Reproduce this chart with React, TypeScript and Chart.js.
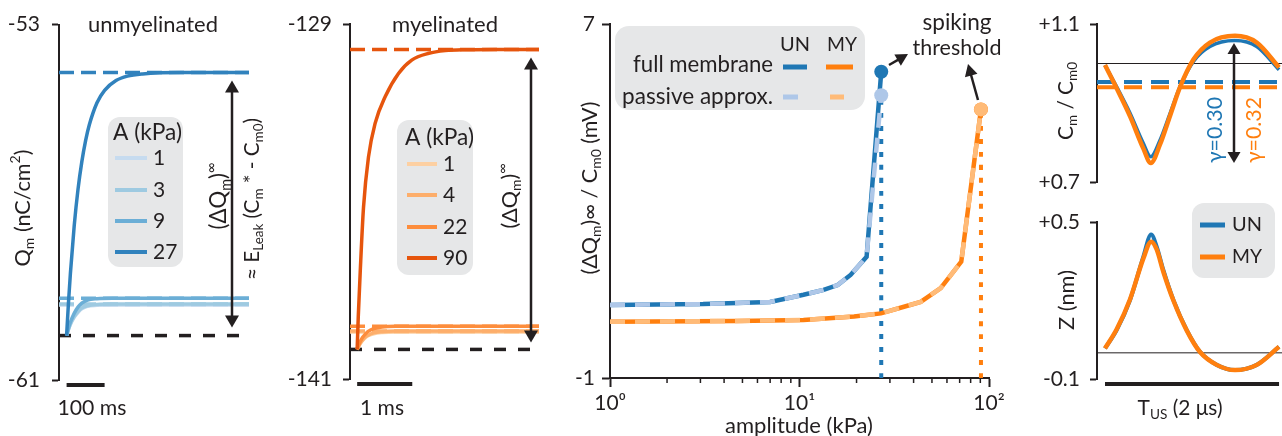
import React, { useEffect, useRef } from "react";
import Chart from "chart.js/auto";

const W = 1282;
const H = 436;
const INK = "#231f20";
const FONT = "Lato, 'Noto Sans', sans-serif";
const FS = 21;
const BOX = "#e6e7e8";
const XAXIS_H = 40;

// ---------- Panel 1 : unmyelinated ----------
const p1Time = [0, 5, 10, 20, 30, 40, 50, 60, 80, 100, 130, 160, 200, 300, 480];
const p1A27 = [-60, -59.25, -58.6, -57.53, -56.71, -56.09, -55.61, -55.25, -54.76, -54.48, -54.26, -54.16, -54.11, -54.08, -54.08];
const p1TimeLow = [0, 5, 10, 20, 30, 40, 55, 80, 120, 480];
const p1A9 = [-60, -59.83, -59.7, -59.5, -59.36, -59.27, -59.2, -59.17, -59.16, -59.16];
const p1A3 = [-60, -59.86, -59.74, -59.57, -59.46, -59.38, -59.33, -59.3, -59.29, -59.29];
const p1A1 = [-60, -59.86, -59.75, -59.59, -59.48, -59.4, -59.34, -59.32, -59.31, -59.31];
const p1Plateaus = [-54.08, -59.16, -59.29, -59.31];
const p1Rest = -60;
const p1Amps = ["1", "3", "9", "27"];
const p1Colors = ["#c6dbef", "#9ecae1", "#6baed6", "#3182bd"];

// ---------- Panel 2 : myelinated ----------
const p2Time = [0, 0.02, 0.055, 0.115, 0.205, 0.327, 0.51, 0.75, 0.99, 1.3, 1.6, 2.0, 2.5, 3.3];
const p2A90 = [-140, -138.9, -137.4, -135.2, -133.5, -132.35, -131.45, -130.67, -130.22, -129.99, -129.9, -129.87, -129.86, -129.86];
const p2TimeLow = [0, 0.03, 0.06, 0.1, 0.15, 0.2, 0.3, 0.45, 0.7, 3.3];
const p2A22 = [-140, -139.84, -139.72, -139.59, -139.48, -139.39, -139.3, -139.24, -139.22, -139.22];
const p2A4 = [-140, -139.88, -139.78, -139.68, -139.58, -139.52, -139.44, -139.4, -139.38, -139.38];
const p2A1 = [-140, -139.88, -139.79, -139.69, -139.6, -139.54, -139.47, -139.43, -139.41, -139.41];
const p2Plateaus = [-129.86, -139.22, -139.38, -139.41];
const p2Rest = -140;
const p2Amps = ["1", "4", "22", "90"];
const p2Colors = ["#fdd0a2", "#fdae6b", "#fd8d3c", "#e6550d"];

// ---------- Panel 3 : steady-state charge vs amplitude ----------
const unAmp = [1, 3.1, 7, 10.5, 13.4, 15.9, 18.6, 22.6, 27];
const unFull = [0.65, 0.67, 0.72, 0.88, 0.99, 1.1, 1.33, 1.74, 5.92];
const unPassive = [0.65, 0.67, 0.72, 0.88, 0.99, 1.1, 1.33, 1.74, 5.39];
const myAmp = [1, 4.7, 10.5, 19.4, 26.9, 35.6, 43.6, 55.6, 71.4, 90.7];
const myFull = [0.27, 0.29, 0.31, 0.39, 0.46, 0.61, 0.72, 1.03, 1.63, 5.07];
const myPassive = [0.27, 0.29, 0.31, 0.39, 0.46, 0.61, 0.72, 1.03, 1.63, 5.07];
const unThreshold = 27;
const myThreshold = 90.7;
const p3TickLabels: Record<number, string> = { 1: "10⁰", 10: "10¹", 100: "10²" };
const p3Minor = [2, 3, 4, 5, 6, 7, 8, 9, 20, 30, 40, 50, 60, 70, 80, 90];

// ---------- Panel 4 : capacitance & deflection over one US cycle ----------
const cmPhase = [0, 0.067, 0.144, 0.22, 0.263, 0.316, 0.374, 0.431, 0.508, 0.603, 0.747, 0.872, 1.0];
const cmUN = [0.996, 0.941, 0.874, 0.798, 0.764, 0.806, 0.874, 0.941, 1.005, 1.043, 1.058, 1.043, 0.984];
const cmMY = [0.996, 0.937, 0.866, 0.785, 0.748, 0.795, 0.868, 0.94, 1.01, 1.053, 1.07, 1.053, 0.99];
const cmEffUN = 0.953;
const cmEffMY = 0.94;
const zPhase = [0, 0.067, 0.144, 0.22, 0.265, 0.297, 0.335, 0.393, 0.47, 0.546, 0.642, 0.747, 0.872, 1.0];
const zUN = [0.017, 0.087, 0.202, 0.367, 0.452, 0.406, 0.317, 0.202, 0.087, 0.004, -0.046, -0.066, -0.046, 0.023];
const zMY = [0.017, 0.09, 0.205, 0.36, 0.425, 0.395, 0.31, 0.2, 0.085, 0.003, -0.046, -0.066, -0.046, 0.023];

const BLUE = "#1f77b4";
const LBLUE = "#aec7e8";
const ORANGE = "#ff7f0e";
const LORANGE = "#ffbb78";

type Seg = { t: string; sub?: boolean; sup?: boolean; color?: string };
type RichOpt = { size?: number; color?: string; align?: "left" | "center" | "right"; rotate?: number; fit?: number };

function rich(ctx: CanvasRenderingContext2D, segs: Seg[], x: number, y: number, opt: RichOpt = {}) {
  let size = opt.size ?? FS;
  const color = opt.color ?? INK;
  const align = opt.align ?? "center";
  const fontOf = (s: Seg, sz: number) => `${s.sub || s.sup ? sz * 0.65 : sz}px ${FONT}`;
  const measure = (sz: number) => {
    let total = 0;
    const widths = segs.map((s) => {
      ctx.font = fontOf(s, sz);
      const w = ctx.measureText(s.t).width;
      total += w;
      return w;
    });
    return { total, widths };
  };
  ctx.save();
  let m = measure(size);
  if (opt.fit) {
    size = (size * opt.fit) / m.total;
    m = measure(size);
  }
  ctx.translate(x, y);
  if (opt.rotate) ctx.rotate(opt.rotate);
  let cx = align === "center" ? -m.total / 2 : align === "right" ? -m.total : 0;
  ctx.textBaseline = "middle";
  ctx.textAlign = "left";
  segs.forEach((s, i) => {
    ctx.font = fontOf(s, size);
    ctx.fillStyle = s.color ?? color;
    const dy = s.sub ? size * 0.32 : s.sup ? -size * 0.35 : 0;
    ctx.fillText(s.t, cx, dy);
    cx += m.widths[i];
  });
  ctx.restore();
}

function head(ctx: CanvasRenderingContext2D, xt: number, yt: number, ang: number, len: number, wid: number) {
  const c = Math.cos(ang);
  const s = Math.sin(ang);
  ctx.beginPath();
  ctx.moveTo(xt, yt);
  ctx.lineTo(xt - len * c + (wid / 2) * s, yt - len * s - (wid / 2) * c);
  ctx.lineTo(xt - len * c - (wid / 2) * s, yt - len * s + (wid / 2) * c);
  ctx.closePath();
  ctx.fill();
}

function arrow(ctx: CanvasRenderingContext2D, x1: number, y1: number, x2: number, y2: number, both: boolean, len = 12, wid = 14, lw = 2.5) {
  const ang = Math.atan2(y2 - y1, x2 - x1);
  const c = Math.cos(ang);
  const s = Math.sin(ang);
  ctx.save();
  ctx.strokeStyle = INK;
  ctx.fillStyle = INK;
  ctx.lineWidth = lw;
  ctx.beginPath();
  const sx = both ? x1 + c * len * 0.8 : x1;
  const sy = both ? y1 + s * len * 0.8 : y1;
  ctx.moveTo(sx, sy);
  ctx.lineTo(x2 - c * len * 0.8, y2 - s * len * 0.8);
  ctx.stroke();
  head(ctx, x2, y2, ang, len, wid);
  if (both) head(ctx, x1, y1, ang + Math.PI, len, wid);
  ctx.restore();
}

function roundBox(ctx: CanvasRenderingContext2D, x: number, y: number, w: number, h: number, r: number) {
  ctx.save();
  ctx.fillStyle = BOX;
  ctx.beginPath();
  ctx.moveTo(x + r, y);
  ctx.lineTo(x + w - r, y);
  ctx.arcTo(x + w, y, x + w, y + r, r);
  ctx.lineTo(x + w, y + h - r);
  ctx.arcTo(x + w, y + h, x + w - r, y + h, r);
  ctx.lineTo(x + r, y + h);
  ctx.arcTo(x, y + h, x, y + h - r, r);
  ctx.lineTo(x, y + r);
  ctx.arcTo(x, y, x + r, y, r);
  ctx.closePath();
  ctx.fill();
  ctx.restore();
}

function seg(ctx: CanvasRenderingContext2D, x1: number, y1: number, x2: number, y2: number, color: string, lw: number, dash: number[] = []) {
  ctx.save();
  ctx.strokeStyle = color;
  ctx.lineWidth = lw;
  ctx.setLineDash(dash);
  ctx.beginPath();
  ctx.moveTo(x1, y1);
  ctx.lineTo(x2, y2);
  ctx.stroke();
  ctx.restore();
}

const curve = (xs: number[], ys: number[], color: string, width: number, extra: any = {}) => ({
  data: xs.map((x, i) => ({ x, y: ys[i] })),
  borderColor: color,
  backgroundColor: color,
  borderWidth: width,
  pointRadius: 0,
  fill: false,
  cubicInterpolationMode: "monotone",
  ...extra,
});

const hline = (v: number, x0: number, x1: number, color: string, width: number, dash: number[]) => ({
  data: [
    { x: x0, y: v },
    { x: x1, y: v },
  ],
  borderColor: color,
  borderWidth: width,
  borderDash: dash,
  pointRadius: 0,
  fill: false,
});

const dot = (x: number, y: number, color: string) => ({
  data: [{ x, y }],
  showLine: false,
  pointRadius: 7,
  pointBackgroundColor: color,
  pointBorderColor: color,
  pointBorderWidth: 0,
  borderColor: color,
  backgroundColor: color,
});

function yAxis(axisW: number, min: number, max: number, vals: number[], fmt: (v: number) => string, tickLen: number, pad: number) {
  return {
    type: "linear",
    position: "left",
    min,
    max,
    afterFit: (s: any) => {
      s.width = axisW;
    },
    afterBuildTicks: (s: any) => {
      s.ticks = vals.map((v) => ({ value: v }));
    },
    grid: { display: true, drawOnChartArea: false, drawTicks: true, tickLength: tickLen, tickWidth: 2, tickColor: INK },
    border: { display: true, width: 2, color: INK },
    ticks: { padding: pad, color: INK, font: { family: FONT, size: FS }, autoSkip: false, callback: (v: any) => fmt(Number(v)) },
  };
}

const hiddenX = (min: number, max: number) => ({ type: "linear", min, max, display: false });

type Area = { l: number; r: number; t: number; b: number };

function config(area: Area, axisW: number, xs: any, ys: any, datasets: any[], before?: (c: any) => void, after?: (c: any) => void) {
  const xH = xs.display === false ? 0 : XAXIS_H;
  return {
    type: "line",
    data: { datasets },
    options: {
      responsive: false,
      animation: false,
      events: [],
      layout: { padding: { left: area.l - axisW, top: area.t, right: W - area.r, bottom: H - area.b - xH } },
      scales: { x: xs, y: ys },
      plugins: { legend: { display: false }, tooltip: { enabled: false } },
    },
    plugins: [
      {
        id: "deco",
        beforeDatasetsDraw: (c: any) => {
          if (before) before(c);
        },
        afterDraw: (c: any) => {
          if (after) after(c);
        },
      },
    ],
  };
}

const fmtInt = (v: number) => String(v);
const fmtSigned = (v: number) => (v > 0 ? "+" : v < 0 ? "-" : "") + Math.abs(v).toFixed(1);
const UP = -Math.PI / 2;

function ampLegend(ctx: CanvasRenderingContext2D, titleX: number, titleY: number, ys: number[], lineX: [number, number], textX: number, labels: string[], colors: string[]) {
  rich(ctx, [{ t: "A (kPa)" }], titleX, titleY, { align: "left", fit: 69 });
  ys.forEach((y, i) => {
    seg(ctx, lineX[0], y, lineX[1], y, colors[i], 4);
    rich(ctx, [{ t: labels[i] }], textX, y, { align: "left", size: 21 });
  });
}

function panel1() {
  const xmin = -20;
  const xmax = 480;
  const datasets = [
    curve(p1Time, p1A27, p1Colors[3], 3.5),
    hline(p1Plateaus[0], xmin, xmax, p1Colors[3], 3.5, [15, 7]),
    curve(p1TimeLow, p1A9, p1Colors[2], 3.5),
    hline(p1Plateaus[1], xmin, xmax, p1Colors[2], 3.5, [15, 7]),
    curve(p1TimeLow, p1A3, p1Colors[1], 3.5),
    hline(p1Plateaus[2], xmin, xmax, p1Colors[1], 3.5, [15, 7]),
    curve(p1TimeLow, p1A1, p1Colors[0], 3.5),
    hline(p1Plateaus[3], xmin, xmax, p1Colors[0], 3.5, [15, 7]),
    hline(p1Rest, xmin, xmax, INK, 3.5, [12, 12]),
  ];
  return config(
    { l: 59, r: 249, t: 24, b: 380 },
    57,
    hiddenX(xmin, xmax),
    yAxis(57, -61, -53, [-61, -53], fmtInt, 7, 12),
    datasets,
    (c) => roundBox(c.ctx, 108, 117, 75, 150, 12),
    (c) => {
      const ctx = c.ctx;
      const ys = c.scales.y;
      const xs = c.scales.x;
      rich(ctx, [{ t: "unmyelinated" }], 153, 25, { fit: 130 });
      rich(ctx, [{ t: "Q" }, { t: "m", sub: true }, { t: " (nC/cm" }, { t: "2", sup: true }, { t: ")" }], 23, 208, { rotate: UP, fit: 117 });
      arrow(ctx, 232, ys.getPixelForValue(p1Plateaus[0]) + 8, 232, ys.getPixelForValue(p1Rest) - 8, true);
      rich(ctx, [{ t: "(ΔQ" }, { t: "m", sub: true }, { t: ")" }, { t: "∞", sup: true }], 219, 196, { rotate: UP, fit: 67 });
      rich(
        ctx,
        [{ t: "≈ E" }, { t: "Leak", sub: true }, { t: " (C" }, { t: "m", sub: true }, { t: " * - C" }, { t: "m0", sub: true }, { t: ")" }],
        252,
        199,
        { rotate: UP, fit: 162 }
      );
      seg(ctx, xs.getPixelForValue(0), 385, xs.getPixelForValue(100), 385, INK, 4);
      rich(ctx, [{ t: "100 ms" }], 92, 408, { fit: 69 });
      ampLegend(ctx, 113, 133, [158, 190, 221, 252], [115, 147], 153, p1Amps, p1Colors);
    }
  );
}

function panel2() {
  const xmin = -0.13;
  const xmax = 3.3;
  const datasets = [
    curve(p2Time, p2A90, p2Colors[3], 3.5),
    hline(p2Plateaus[0], xmin, xmax, p2Colors[3], 3.5, [15, 7]),
    curve(p2TimeLow, p2A22, p2Colors[2], 3.5),
    hline(p2Plateaus[1], xmin, xmax, p2Colors[2], 3.5, [15, 7]),
    curve(p2TimeLow, p2A4, p2Colors[1], 3.5),
    hline(p2Plateaus[2], xmin, xmax, p2Colors[1], 3.5, [15, 7]),
    curve(p2TimeLow, p2A1, p2Colors[0], 3.5),
    hline(p2Plateaus[3], xmin, xmax, p2Colors[0], 3.5, [15, 7]),
    hline(p2Rest, xmin, xmax, INK, 3.5, [12, 12]),
  ];
  return config(
    { l: 350, r: 539, t: 24, b: 379 },
    75,
    hiddenX(xmin, xmax),
    yAxis(75, -141, -129, [-141, -129], fmtInt, 7, 11),
    datasets,
    (c) => roundBox(c.ctx, 397, 120, 76, 155, 12),
    (c) => {
      const ctx = c.ctx;
      const ys = c.scales.y;
      const xs = c.scales.x;
      rich(ctx, [{ t: "myelinated" }], 445, 25, { fit: 106 });
      arrow(ctx, 531, ys.getPixelForValue(p2Plateaus[0]) + 8, 531, ys.getPixelForValue(p2Rest) - 7, true);
      rich(ctx, [{ t: "(ΔQ" }, { t: "m", sub: true }, { t: ")" }, { t: "∞", sup: true }], 510, 196, { rotate: UP, fit: 65 });
      seg(ctx, xs.getPixelForValue(0), 384, xs.getPixelForValue(1), 384, INK, 4);
      rich(ctx, [{ t: "1 ms" }], 382, 408, { fit: 44 });
      ampLegend(ctx, 405, 138, [164, 195, 227, 258], [407, 437], 443, p2Amps, p2Colors);
    }
  );
}

function panel3() {
  const datasets = [
    dot(unThreshold, unFull[unFull.length - 1], BLUE),
    dot(unThreshold, unPassive[unPassive.length - 1], LBLUE),
    dot(myThreshold, myPassive[myPassive.length - 1], LORANGE),
    dot(myThreshold, myFull[myFull.length - 1], ORANGE),
    curve(unAmp, unPassive, LBLUE, 4.5, { tension: 0, cubicInterpolationMode: "default", borderDash: [15, 10] }),
    curve(unAmp, unFull, BLUE, 4.5, { tension: 0, cubicInterpolationMode: "default" }),
    curve(myAmp, myPassive, LORANGE, 4.5, { tension: 0, cubicInterpolationMode: "default", borderDash: [15, 10] }),
    curve(myAmp, myFull, ORANGE, 4.5, { tension: 0, cubicInterpolationMode: "default" }),
    curve([unThreshold, unThreshold], [-1, unPassive[unPassive.length - 1]], BLUE, 4, { tension: 0, borderDash: [5, 8] }),
    curve([myThreshold, myThreshold], [-1, myPassive[myPassive.length - 1]], ORANGE, 4, { tension: 0, borderDash: [5, 8] }),
  ];
  const xs = {
    type: "logarithmic",
    min: 1,
    max: 100,
    afterFit: (s: any) => {
      s.height = XAXIS_H;
    },
    afterBuildTicks: (s: any) => {
      s.ticks = [1, 10, 100].map((v) => ({ value: v }));
    },
    grid: { display: true, drawOnChartArea: false, drawTicks: true, tickLength: 9, tickWidth: 2, tickColor: INK },
    border: { display: true, width: 2, color: INK },
    ticks: { padding: 4, color: INK, font: { family: FONT, size: 21 }, autoSkip: false, maxRotation: 0, callback: (v: any) => p3TickLabels[Number(v)] ?? "" },
  };
  return config(
    { l: 610, r: 989, t: 24, b: 378 },
    75,
    xs,
    yAxis(75, -1, 7, [-1, 7], fmtInt, 8, 7),
    datasets,
    (c) => roundBox(c.ctx, 615, 26, 250, 84, 14),
    (c) => {
      const ctx = c.ctx;
      const x = c.scales.x;
      const bottom = c.chartArea.bottom;
      p3Minor.forEach((v) => seg(ctx, x.getPixelForValue(v), bottom, x.getPixelForValue(v), bottom + 5, INK, 1.5));
      rich(ctx, [{ t: "(ΔQ" }, { t: "m", sub: true }, { t: ")∞ / C" }, { t: "m0", sub: true }, { t: " (mV)" }], 590, 188, { rotate: UP, fit: 173 });
      rich(ctx, [{ t: "amplitude (kPa)" }], 799, 426, { fit: 148 });
      rich(ctx, [{ t: "UN" }], 795, 45, { fit: 30 });
      rich(ctx, [{ t: "MY" }], 842, 45, { fit: 30 });
      rich(ctx, [{ t: "full membrane" }], 773, 65, { align: "right", fit: 140 });
      rich(ctx, [{ t: "passive approx." }], 773, 97, { align: "right", fit: 151 });
      seg(ctx, 783, 67, 807, 67, BLUE, 5);
      seg(ctx, 826, 67, 853, 67, ORANGE, 5);
      seg(ctx, 783, 97, 798, 97, LBLUE, 5);
      seg(ctx, 830, 97, 844, 97, LORANGE, 5);
      rich(ctx, [{ t: "spiking" }], 957, 23, { fit: 69 });
      rich(ctx, [{ t: "threshold" }], 957, 48, { fit: 89 });
      arrow(ctx, 889, 65, 908, 54, false, 12, 13, 2.5);
      arrow(ctx, 978, 100, 968, 64, false, 12, 13, 2.5);
    }
  );
}

function panel4a() {
  const xmin = -0.046;
  const xmax = 1.017;
  const datasets = [
    curve(cmPhase, cmMY, ORANGE, 4.5),
    curve(cmPhase, cmUN, BLUE, 3.5),
    hline(cmEffMY, xmin, xmax, ORANGE, 4, [18, 9]),
    hline(cmEffUN, xmin, xmax, BLUE, 4, [18, 9]),
    hline(1.0, xmin, xmax, INK, 1, []),
  ];
  return config(
    { l: 1097, r: 1282, t: 24, b: 182 },
    75,
    hiddenX(xmin, xmax),
    yAxis(75, 0.7, 1.1, [0.7, 1.1], fmtSigned, 7, 10),
    datasets,
    undefined,
    (c) => {
      const ctx = c.ctx;
      const ys = c.scales.y;
      rich(ctx, [{ t: "C" }, { t: "m", sub: true }, { t: " / C" }, { t: "m0", sub: true }], 1066, 101, { rotate: UP, fit: 78 });
      arrow(ctx, 1234, ys.getPixelForValue(1.052), 1234, ys.getPixelForValue(0.748), true, 11, 13, 2.5);
      rich(ctx, [{ t: "γ=0.30" }], 1215, 130, { rotate: UP, color: BLUE, fit: 66 });
      rich(ctx, [{ t: "γ=0.32" }], 1254, 130, { rotate: UP, color: ORANGE, fit: 66 });
    }
  );
}

function panel4b() {
  const xmin = -0.046;
  const xmax = 1.017;
  const datasets = [curve(zPhase, zMY, ORANGE, 4.5), curve(zPhase, zUN, BLUE, 4), hline(0, xmin, xmax, INK, 1, [])];
  return config(
    { l: 1097, r: 1282, t: 222, b: 379 },
    75,
    hiddenX(xmin, xmax),
    yAxis(75, -0.1, 0.5, [-0.1, 0.5], fmtSigned, 7, 10),
    datasets,
    (c) => roundBox(c.ctx, 1192, 203, 83, 75, 12),
    (c) => {
      const ctx = c.ctx;
      const xs = c.scales.x;
      rich(ctx, [{ t: "Z (nm)" }], 1067, 300, { rotate: UP, fit: 60 });
      seg(ctx, 1200, 225, 1225, 225, BLUE, 5);
      seg(ctx, 1200, 257, 1225, 257, ORANGE, 5);
      rich(ctx, [{ t: "UN" }], 1232, 225, { align: "left", fit: 30 });
      rich(ctx, [{ t: "MY" }], 1232, 257, { align: "left", fit: 30 });
      seg(ctx, xs.getPixelForValue(0), 384, xs.getPixelForValue(1), 384, INK, 4);
      rich(ctx, [{ t: "T" }, { t: "US", sub: true }, { t: " (2 μs)" }], 1180, 408, { fit: 85 });
    }
  );
}

const PANELS = [panel1, panel2, panel3, panel4a, panel4b];

function Panel({ build }: { build: () => any }) {
  const ref = useRef<HTMLCanvasElement | null>(null);
  useEffect(() => {
    if (!ref.current) return;
    const chart = new Chart(ref.current, build());
    return () => chart.destroy();
  }, [build]);
  return <canvas ref={ref} width={W} height={H} style={{ position: "absolute", left: 0, top: 0, width: W, height: H }} />;
}

export default function App() {
  return (
    <div style={{ position: "absolute", left: 0, top: 0, width: W, height: H, background: "#ffffff", overflow: "hidden" }}>
      {PANELS.map((p, i) => (
        <Panel key={i} build={p} />
      ))}
    </div>
  );
}
